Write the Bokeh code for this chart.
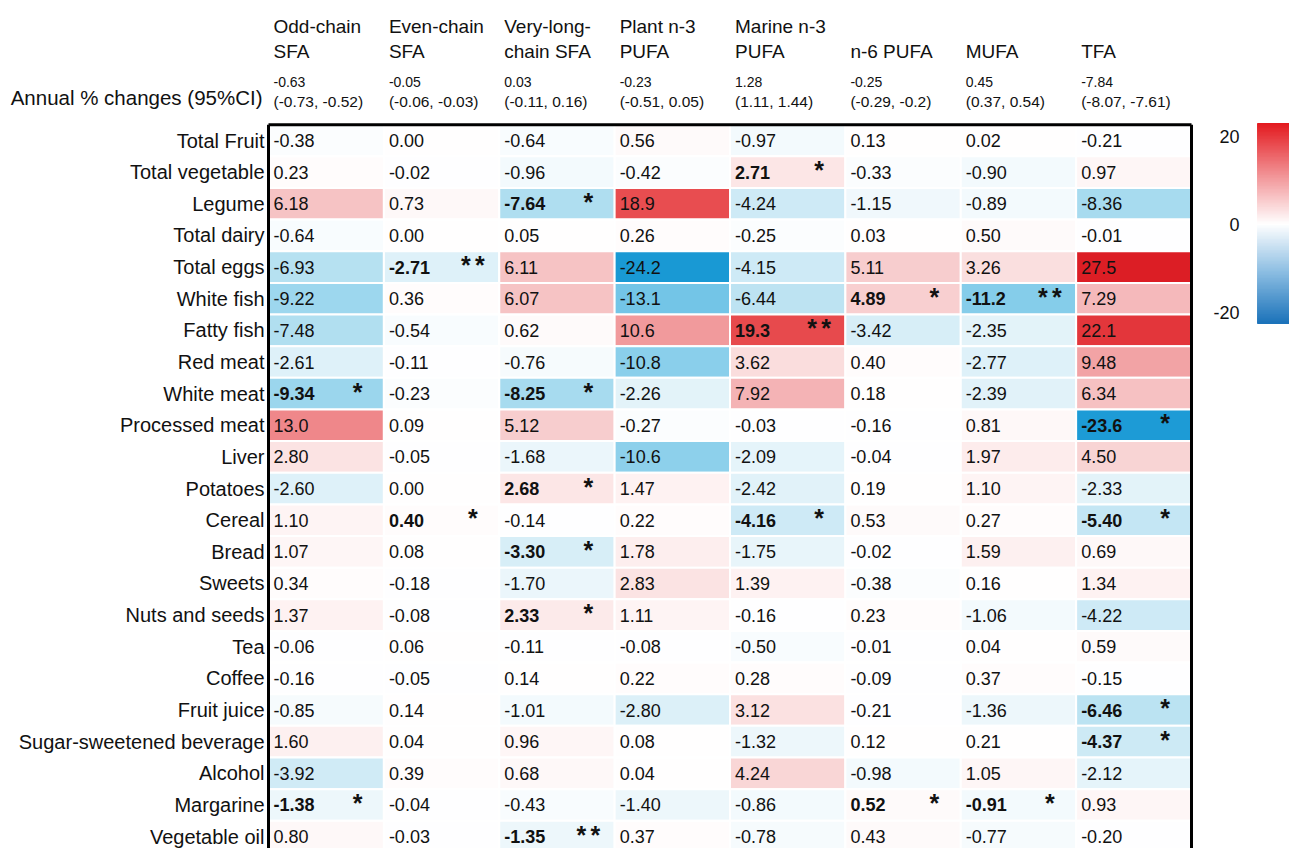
import numpy as np
from bokeh.plotting import figure
from bokeh.models import Range1d, ColumnDataSource, LinearColorMapper
from bokeh.transform import transform
from bokeh.core.properties import value
from bokeh.embed import file_html
from bokeh.resources import INLINE

# ---------------- data ----------------
foods = ["Total Fruit", "Total vegetable", "Legume", "Total dairy", "Total eggs",
         "White fish", "Fatty fish", "Red meat", "White meat", "Processed meat",
         "Liver", "Potatoes", "Cereal", "Bread", "Sweets", "Nuts and seeds", "Tea",
         "Coffee", "Fruit juice", "Sugar-sweetened beverage", "Alcohol", "Margarine",
         "Vegetable oil"]

header_line1 = ["Odd-chain", "Even-chain", "Very-long-", "Plant n-3", "Marine n-3", "", "", ""]
header_line2 = ["SFA", "SFA", "chain SFA", "PUFA", "PUFA", "n-6 PUFA", "MUFA", "TFA"]

annual_change = [-0.63, -0.05, 0.03, -0.23, 1.28, -0.25, 0.45, -7.84]
annual_ci_low = [-0.73, -0.06, -0.11, -0.51, 1.11, -0.29, 0.37, -8.07]
annual_ci_high = [-0.52, -0.03, 0.16, 0.05, 1.44, -0.2, 0.54, -7.61]

odd_chain_sfa = [-0.38, 0.23, 6.18, -0.64, -6.93, -9.22, -7.48, -2.61, -9.34, 13.0, 2.80, -2.60,
                 1.10, 1.07, 0.34, 1.37, -0.06, -0.16, -0.85, 1.60, -3.92, -1.38, 0.80]
even_chain_sfa = [0.00, -0.02, 0.73, 0.00, -2.71, 0.36, -0.54, -0.11, -0.23, 0.09, -0.05, 0.00,
                  0.40, 0.08, -0.18, -0.08, 0.06, -0.05, 0.14, 0.04, 0.39, -0.04, -0.03]
very_long_chain_sfa = [-0.64, -0.96, -7.64, 0.05, 6.11, 6.07, 0.62, -0.76, -8.25, 5.12, -1.68, 2.68,
                       -0.14, -3.30, -1.70, 2.33, -0.11, 0.14, -1.01, 0.96, 0.68, -0.43, -1.35]
plant_n3_pufa = [0.56, -0.42, 18.9, 0.26, -24.2, -13.1, 10.6, -10.8, -2.26, -0.27, -10.6, 1.47,
                 0.22, 1.78, 2.83, 1.11, -0.08, 0.22, -2.80, 0.08, 0.04, -1.40, 0.37]
marine_n3_pufa = [-0.97, 2.71, -4.24, -0.25, -4.15, -6.44, 19.3, 3.62, 7.92, -0.03, -2.09, -2.42,
                  -4.16, -1.75, 1.39, -0.16, -0.50, 0.28, 3.12, -1.32, 4.24, -0.86, -0.78]
n6_pufa = [0.13, -0.33, -1.15, 0.03, 5.11, 4.89, -3.42, 0.40, 0.18, -0.16, -0.04, 0.19,
           0.53, -0.02, -0.38, 0.23, -0.01, -0.09, -0.21, 0.12, -0.98, 0.52, 0.43]
mufa = [0.02, -0.90, -0.89, 0.50, 3.26, -11.2, -2.35, -2.77, -2.39, 0.81, 1.97, 1.10,
        0.27, 1.59, 0.16, -1.06, 0.04, 0.37, -1.36, 0.21, 1.05, -0.91, -0.77]
tfa = [-0.21, 0.97, -8.36, -0.01, 27.5, 7.29, 22.1, 9.48, 6.34, -23.6, 4.50, -2.33,
       -5.40, 0.69, 1.34, -4.22, 0.59, -0.15, -6.46, -4.37, -2.12, 0.93, -0.20]

sig_odd_chain_sfa = ["", "", "", "", "", "", "", "", "*", "", "", "", "", "", "", "", "", "", "", "", "", "*", ""]
sig_even_chain_sfa = ["", "", "", "", "**", "", "", "", "", "", "", "", "*", "", "", "", "", "", "", "", "", "", ""]
sig_very_long_chain_sfa = ["", "", "*", "", "", "", "", "", "*", "", "", "*", "", "*", "", "*", "", "", "", "", "", "", "**"]
sig_plant_n3_pufa = [""] * 23
sig_marine_n3_pufa = ["", "*", "", "", "", "", "**", "", "", "", "", "", "*", "", "", "", "", "", "", "", "", "", ""]
sig_n6_pufa = ["", "", "", "", "", "*", "", "", "", "", "", "", "", "", "", "", "", "", "", "", "", "*", ""]
sig_mufa = ["", "", "", "", "", "**", "", "", "", "", "", "", "", "", "", "", "", "", "", "", "", "*", ""]
sig_tfa = ["", "", "", "", "", "", "", "", "", "*", "", "", "*", "", "", "", "", "", "*", "*", "", "", ""]

columns = [odd_chain_sfa, even_chain_sfa, very_long_chain_sfa, plant_n3_pufa,
           marine_n3_pufa, n6_pufa, mufa, tfa]
significance = [sig_odd_chain_sfa, sig_even_chain_sfa, sig_very_long_chain_sfa, sig_plant_n3_pufa,
                sig_marine_n3_pufa, sig_n6_pufa, sig_mufa, sig_tfa]

colorbar_ticks = [20, 0, -20]

# ---------------- style / layout ----------------
FONT = "Liberation Sans"
FIG_W, FIG_H = 1289, 848
PAGE = 0
FRAME_LEFT_PX, COL_W = 268.0, 115.375
FRAME_TOP_PX, ROW_H = 124.2, 31.64


def xd(px):
    return (px - FRAME_LEFT_PX) / COL_W - 0.5


def yd(py):
    return (py - FRAME_TOP_PX) / ROW_H - 0.5


# cell colour palette (diverging blue - white - red)
cell_anchor_v = [-27.5, -24.0, -13.0, -9.0, -6.5, -4.0, -2.0, 0.0, 2.0, 4.0, 6.0, 8.0, 10.0, 13.0, 19.0, 22.0, 27.5]
cell_anchor_c = ["#0b8ccd", "#1a9ad5", "#73c5e7", "#9fd8ee", "#bce3f2", "#d0ebf6", "#e6f4fa", "#ffffff",
                 "#fdeded", "#f9d8d8", "#f6c4c5", "#f4b2b4", "#f19fa1", "#ef878a", "#e84c4f", "#e3363b", "#dc1e25"]

cb_anchor_v = [-22.5, -11.0, 0.0, 11.0, 23.0]
cb_anchor_c = ["#1c73ba", "#8bbde2", "#ffffff", "#f29497", "#e31a1f"]
CB_LO, CB_HI = -22.5, 23.0
CB_TOP_PX, CB_BOT_PX = 123.0, 323.0


def build_palette(anchor_v, anchor_c, lo, hi, n=256):
    rgb = np.array([[int(c[i:i + 2], 16) for i in (1, 3, 5)] for c in anchor_c], dtype=float)
    vs = np.linspace(lo, hi, n)
    out = []
    for v in vs:
        r = np.interp(v, anchor_v, rgb[:, 0])
        g = np.interp(v, anchor_v, rgb[:, 1])
        b = np.interp(v, anchor_v, rgb[:, 2])
        out.append("#%02x%02x%02x" % (int(round(r)), int(round(g)), int(round(b))))
    return out


cell_mapper = LinearColorMapper(palette=build_palette(cell_anchor_v, cell_anchor_c, -27.5, 27.5),
                                low=-27.5, high=27.5)
cb_mapper = LinearColorMapper(palette=build_palette(cb_anchor_v, cb_anchor_c, CB_LO, CB_HI),
                              low=CB_LO, high=CB_HI)

p = figure(width=FIG_W, height=FIG_H,
           x_range=Range1d(xd(PAGE), xd(PAGE + FIG_W)),
           y_range=Range1d(yd(PAGE + FIG_H), yd(PAGE)),
           output_backend="svg", toolbar_location=None,
           x_axis_location=None, y_axis_location=None,
           min_border=0, outline_line_color=None,
           background_fill_color="white", border_fill_color="white")
p.grid.visible = False

# ---------------- heatmap cells ----------------
xs, ys, vals, labels, bold = [], [], [], [], []
star_x, star_y = [], []
for c, col in enumerate(columns):
    for r, v in enumerate(col):
        xs.append(c)
        ys.append(r)
        vals.append(v)
        labels.append(("%.1f" % v) if abs(v) >= 10 else ("%.2f" % v))
        s = significance[c][r]
        bold.append(s != "")
        n = len(s)
        for i in range(n):
            star_x.append(c - 0.5 + (89 + (i - (n - 1) / 2) * 14) / COL_W)
            star_y.append(r - 2 / ROW_H)

cells = ColumnDataSource(dict(x=xs, y=ys, v=vals))
p.rect(x="x", y="y", width=1, height=1, source=cells,
       fill_color=transform("v", cell_mapper), line_color="white", line_width=2)

txt_off = 5 / COL_W
norm = ColumnDataSource(dict(x=[x - 0.5 + txt_off for x, b in zip(xs, bold) if not b],
                             y=[y for y, b in zip(ys, bold) if not b],
                             t=[t for t, b in zip(labels, bold) if not b]))
bld = ColumnDataSource(dict(x=[x - 0.5 + txt_off for x, b in zip(xs, bold) if b],
                            y=[y for y, b in zip(ys, bold) if b],
                            t=[t for t, b in zip(labels, bold) if b]))
p.text(x="x", y="y", text="t", source=norm, text_font=value(FONT), text_font_size="18px",
       text_baseline="middle", text_align="left", text_color="#111111")
p.text(x="x", y="y", text="t", source=bld, text_font=value(FONT), text_font_size="18px",
       text_font_style="bold", text_baseline="middle", text_align="left", text_color="#111111")
p.text(x=star_x, y=star_y, text=["*"] * len(star_x), text_font=value(FONT), text_font_size="25px",
       text_font_style="bold", text_baseline="middle", text_align="center", text_color="#111111")

# ---------------- row labels ----------------
p.text(x=[xd(264)] * len(foods), y=list(range(len(foods))), text=foods,
       text_font=value(FONT), text_font_size="20px", text_baseline="middle",
       text_align="right", text_color="#111111")

# ---------------- column headers ----------------
hx = [c - 0.5 + txt_off for c in range(len(header_line2))]
p.text(x=hx, y=[yd(26)] * 8, text=header_line1, text_font=value(FONT), text_font_size="19px",
       text_baseline="middle", text_align="left", text_color="#111111")
p.text(x=hx, y=[yd(51)] * 8, text=header_line2, text_font=value(FONT), text_font_size="19px",
       text_baseline="middle", text_align="left", text_color="#111111")
p.text(x=hx, y=[yd(81)] * 8, text=["%.2f" % a for a in annual_change], text_font=value(FONT),
       text_font_size="14px", text_baseline="middle", text_align="left", text_color="#111111")
p.text(x=hx, y=[yd(101)] * 8, text=["(%g, %g)" % (lo, hi) for lo, hi in zip(annual_ci_low, annual_ci_high)],
       text_font=value(FONT), text_font_size="15.5px", text_baseline="middle", text_align="left",
       text_color="#111111")
p.text(x=[xd(262)], y=[yd(97)], text=["Annual % changes (95%CI)"], text_font=value(FONT),
       text_font_size="20.5px", text_baseline="middle", text_align="right", text_color="#111111")

# ---------------- frame border ----------------
n_rows, n_cols = len(foods), len(columns)
p.segment(x0=[-0.5, -0.5, n_cols - 0.5], y0=[-0.5, -0.5, -0.5],
          x1=[n_cols - 0.5, -0.5, n_cols - 0.5], y1=[-0.5, n_rows + 1, n_rows + 1],
          line_color="black", line_width=3)


# ---------------- colour bar ----------------
def cb_py(v):
    return CB_TOP_PX + (CB_HI - v) / (CB_HI - CB_LO) * (CB_BOT_PX - CB_TOP_PX)


edges = np.linspace(CB_HI, CB_LO, 201)
cb = ColumnDataSource(dict(
    top=[yd(cb_py(e)) for e in edges[:-1]],
    bottom=[yd(cb_py(e)) for e in edges[1:]],
    v=list((edges[:-1] + edges[1:]) / 2)))
p.quad(left=xd(1257), right=xd(1300), top="top", bottom="bottom", source=cb,
       fill_color=transform("v", cb_mapper), line_color=transform("v", cb_mapper), line_width=1)
p.text(x=[xd(1239)] * len(colorbar_ticks), y=[yd(cb_py(t)) for t in colorbar_ticks],
       text=[str(t) for t in colorbar_ticks], text_font=value(FONT), text_font_size="18px",
       text_baseline="middle", text_align="right", text_color="#111111")

open("out.html", "w").write(file_html(p, INLINE))
